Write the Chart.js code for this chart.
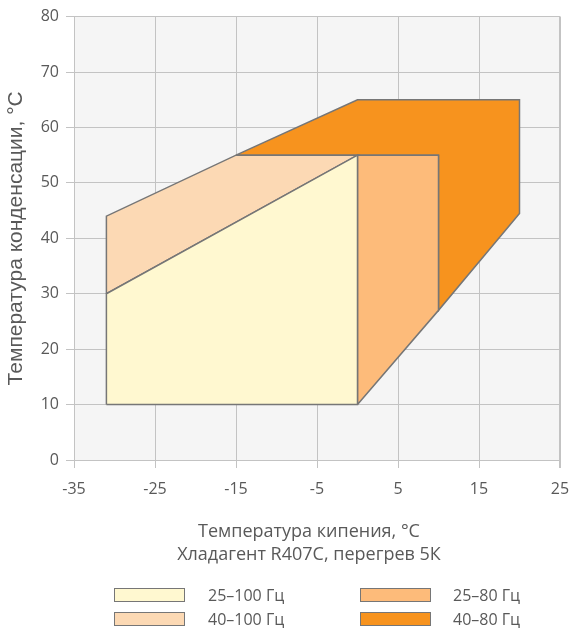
<!DOCTYPE html>
<html>
<head>
<meta charset="utf-8">
<script src="https://cdn.jsdelivr.net/npm/chart.js@4.4.1/dist/chart.umd.min.js"></script>
<style>
  html, body { margin: 0; padding: 0; background: #ffffff; }
  #wrap { position: relative; width: 572px; height: 631px; overflow: hidden; }
  #c { position: absolute; left: 0; top: 0; }
  #xtitle { position: absolute; left: 109px; width: 400px; top: 519px; text-align: center;
    font-family: "Open Sans", sans-serif; font-size: 18px; line-height: 23px; color: #595959; white-space: nowrap; }
  .leg { position: absolute; font-family: "Open Sans", sans-serif; font-size: 16px; color: #595959; white-space: nowrap; line-height: 14px; }
  .box { position: absolute; width: 69px; height: 12px; border: 1px solid #767676; }
</style>
</head>
<body>
<div id="wrap">
  <canvas id="c" width="572" height="631"></canvas>
  <div id="xtitle"></div>
  <div id="legend"></div>
</div>
<script>
// ---- Data ----
const seriesNames = ['25–100 Гц', '40–100 Гц', '25–80 Гц', '40–80 Гц'];
const seriesColors = ['#fff8d0', '#fcd9b4', '#fdbb7a', '#f7931e'];

// evaporating temperature (x) and condensing temperature (y) polygon vertices
const evap25_100 = [-31, -31, 0, 0, -31];
const cond25_100 = [10, 30, 55, 10, 10];

const evap40_100 = [-31, -31, -15, 0, -31];
const cond40_100 = [30, 44, 55, 55, 30];

const evap25_80 = [0, 0, 10, 10, 0];
const cond25_80 = [10, 55, 55, 27, 10];

const evap40_80 = [-15, 0, 20, 20, 10, 10, -15];
const cond40_80 = [55, 65, 65, 44.5, 27, 55, 55];

const xTicks = [-35, -25, -15, -5, 5, 15, 25];
const yTicks = [0, 10, 20, 30, 40, 50, 60, 70, 80];

const xTitle = ['Температура кипения, °С', 'Хладагент R407С, перегрев 5К'];
const yTitle = 'Температура конденсации, °С';

// ---- Build ----
function pts(xs, ys) { return xs.map((x, i) => ({ x: x, y: ys[i] })); }
const polys = [
  pts(evap25_100, cond25_100),
  pts(evap40_100, cond40_100),
  pts(evap25_80, cond25_80),
  pts(evap40_80, cond40_80)
];

const datasets = polys.map((d, i) => ({
  label: seriesNames[i],
  data: d,
  showLine: true,
  fill: 'shape',
  backgroundColor: seriesColors[i],
  borderColor: '#767676',
  borderWidth: 1.5,
  pointRadius: 0,
  pointHoverRadius: 0,
  tension: 0
}));

const plotBg = {
  id: 'plotBg',
  beforeDraw(chart) {
    const a = chart.chartArea, ctx = chart.ctx;
    ctx.save();
    ctx.fillStyle = '#f5f5f5';
    ctx.fillRect(a.left, a.top, a.right - a.left, a.bottom - a.top);
    ctx.restore();
  }
};

const gridColor = '#c3c3c3';
const tickFont = { family: 'Open Sans', size: 16 };

new Chart(document.getElementById('c'), {
  type: 'scatter',
  data: { datasets: datasets },
  plugins: [plotBg],
  options: {
    responsive: false,
    animation: false,
    events: [],
    layout: { padding: { left: 0, right: 12, top: 14, bottom: 66 } },
    plugins: { legend: { display: false }, tooltip: { enabled: false } },
    scales: {
      x: {
        type: 'linear',
        min: xTicks[0], max: xTicks[xTicks.length - 1],
        afterBuildTicks(s) { s.ticks = xTicks.map(v => ({ value: v })); },
        afterFit(s) { s.height = 105; s.paddingRight = 0; s.paddingLeft = 0; },
        grid: { color: gridColor, tickColor: gridColor, tickLength: 8,
                lineWidth: c => (c.tick && c.tick.value === xTicks[xTicks.length - 1]) ? 2 : 1 },
        border: { color: gridColor },
        ticks: { font: tickFont, color: '#595959', padding: 12, maxRotation: 0, autoSkip: false },
        title: { display: false }
      },
      y: {
        type: 'linear',
        min: yTicks[0], max: yTicks[yTicks.length - 1],
        afterBuildTicks(s) { s.ticks = yTicks.map(v => ({ value: v })); },
        afterFit(s) { s.width = 74; },
        grid: { color: gridColor, tickColor: gridColor, tickLength: 8, lineWidth: 1 },
        border: { color: gridColor },
        ticks: { font: tickFont, color: '#595959', padding: 7 },
        title: { display: true, text: yTitle, color: '#595959',
                 font: { family: 'Liberation Sans', size: 21, lineHeight: 1.2 }, padding: { top: 4, bottom: 0 } }
      }
    }
  }
});

// ---- HTML x-axis title ----
document.getElementById('xtitle').innerHTML = xTitle.map(t => '<div>' + t + '</div>').join('');

// ---- HTML legend (2 x 2) ----
const legPos = [
  { bx: 114, tx: 208, y: 588 },
  { bx: 114, tx: 208, y: 612 },
  { bx: 360, tx: 453, y: 588 },
  { bx: 360, tx: 453, y: 612 }
];
const legend = document.getElementById('legend');
seriesNames.forEach((n, i) => {
  const p = legPos[i];
  const b = document.createElement('div');
  b.className = 'box';
  b.style.left = p.bx + 'px'; b.style.top = p.y + 'px';
  b.style.background = seriesColors[i];
  legend.appendChild(b);
  const t = document.createElement('div');
  t.className = 'leg';
  t.style.left = p.tx + 'px'; t.style.top = p.y + 'px';
  t.textContent = n;
  legend.appendChild(t);
});
</script>
</body>
</html>
